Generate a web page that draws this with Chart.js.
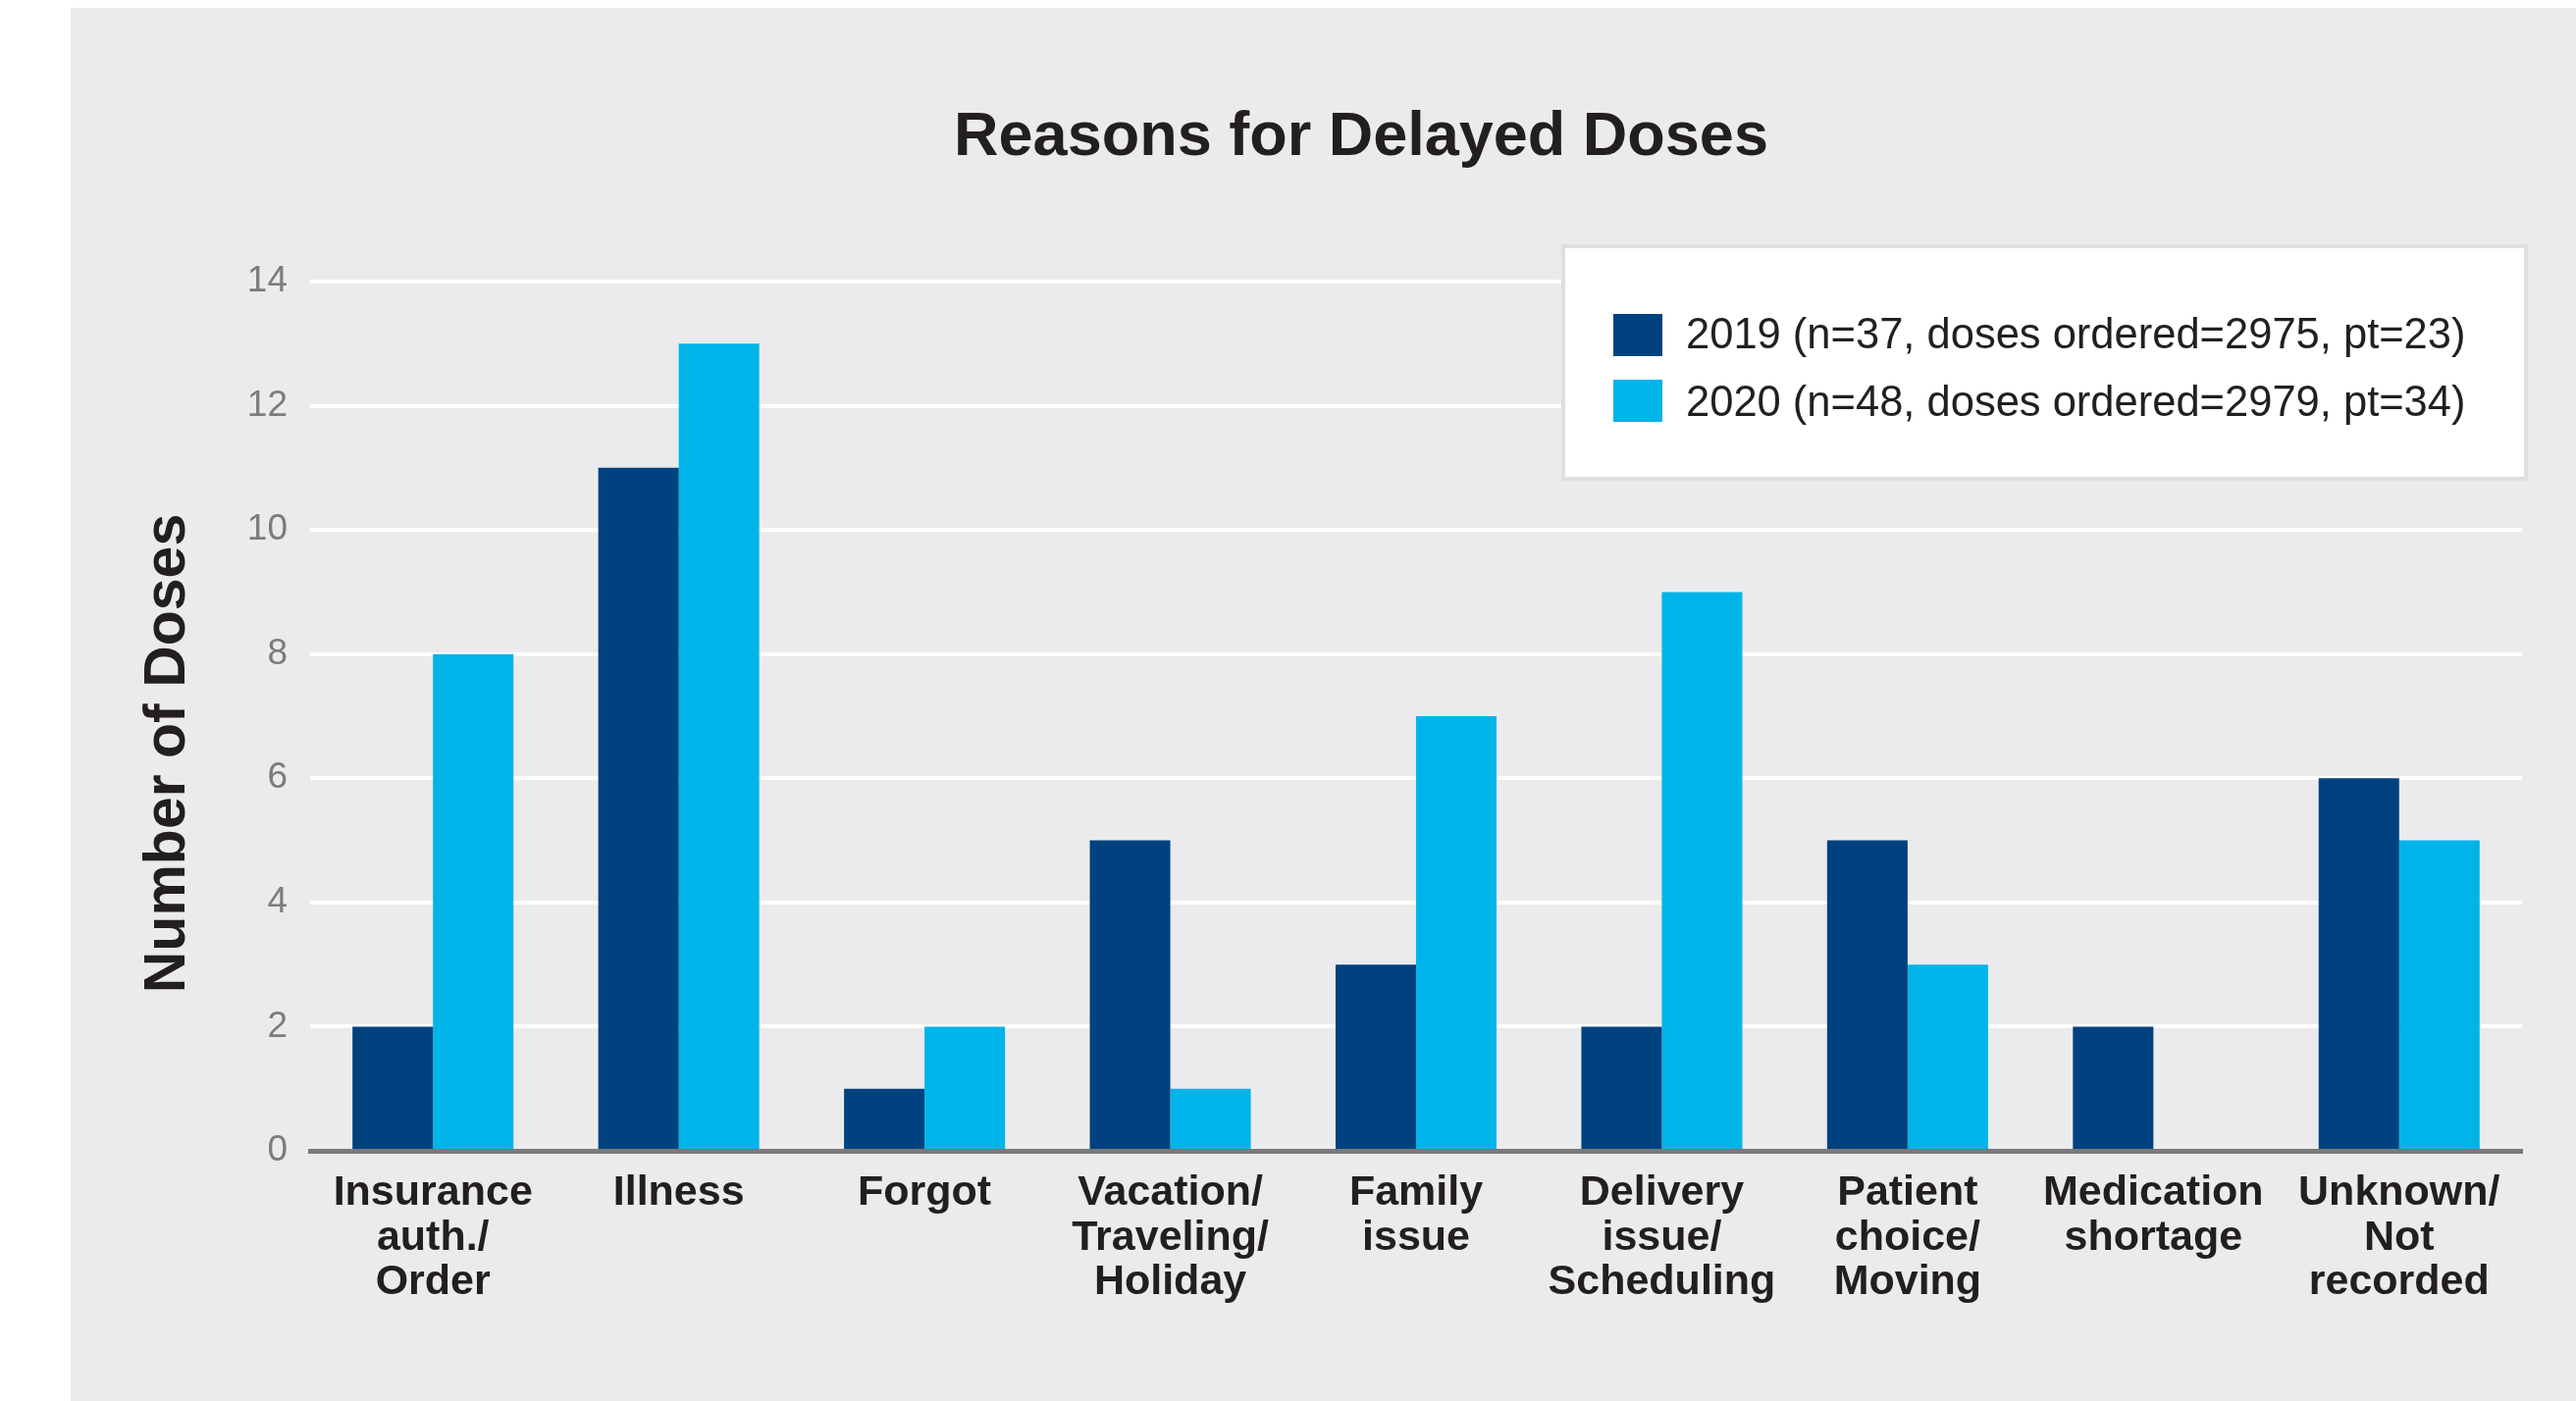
<!DOCTYPE html>
<html>
<head>
<meta charset="utf-8">
<script src="https://cdn.jsdelivr.net/npm/chart.js@4"></script>
<style>
  body { margin: 0; background: #fff; }
  canvas { display: block; }
</style>
</head>
<body>
<canvas id="dosesChart" width="2625" height="1428"></canvas>
<script>
// data
const reasons = [
    ['Insurance', 'auth./', 'Order'],
    ['Illness'],
    ['Forgot'],
    ['Vacation/', 'Traveling/', 'Holiday'],
    ['Family', 'issue'],
    ['Delivery', 'issue/', 'Scheduling'],
    ['Patient', 'choice/', 'Moving'],
    ['Medication', 'shortage'],
    ['Unknown/', 'Not', 'recorded']
];
const doses2019 = [2, 11, 1, 5, 3, 2, 5, 2, 6];
const doses2020 = [8, 13, 2, 1, 7, 9, 3, 0, 5];
const label2019 = '2019 (n=37, doses ordered=2975, pt=23)';
const label2020 = '2020 (n=48, doses ordered=2979, pt=34)';
const yTicks = [0, 2, 4, 6, 8, 10, 12, 14];
const chartTitle = 'Reasons for Delayed Doses';
const yTitle = 'Number of Doses';

const FONT = '"Liberation Sans", Arial, sans-serif';
const DARK = '#00427f';
const LIGHT = '#00b4e9';
const INK = '#231f20';

// grey panel behind everything
const panelBg = {
    id: 'panelBg',
    beforeDraw(chart) {
        const ctx = chart.ctx;
        ctx.save();
        ctx.fillStyle = '#ffffff';
        ctx.fillRect(0, 0, chart.width, chart.height);
        ctx.fillStyle = '#ebebed';
        ctx.fillRect(72, 8, chart.width - 72, chart.height - 8);
        ctx.restore();
    }
};

// titles sit off-centre in the original, so they are placed by hand
const titles = {
    id: 'titles',
    afterDraw(chart) {
        const ctx = chart.ctx;
        ctx.save();
        ctx.fillStyle = INK;
        ctx.textAlign = 'center';
        ctx.textBaseline = 'alphabetic';
        ctx.font = 'bold 63px ' + FONT;
        ctx.fillText(chartTitle, 1387, 158);
        ctx.translate(188, 768);
        ctx.rotate(-Math.PI / 2);
        ctx.font = 'bold 59px ' + FONT;
        ctx.fillText(yTitle, 0, 0);
        ctx.restore();
    }
};

// boxed legend in the upper right
const boxLegend = {
    id: 'boxLegend',
    afterDraw(chart) {
        const ctx = chart.ctx;
        const box = { x: 1593, y: 251, w: 981, h: 237 };
        const rows = [341, 408];
        const textRows = [343, 412];
        ctx.save();
        ctx.fillStyle = '#ffffff';
        ctx.fillRect(box.x, box.y, box.w, box.h);
        ctx.strokeStyle = '#dfdfe1';
        ctx.lineWidth = 4;
        ctx.strokeRect(box.x, box.y, box.w, box.h);
        ctx.font = '43.5px ' + FONT;
        ctx.textBaseline = 'middle';
        chart.data.datasets.forEach((ds, i) => {
            ctx.fillStyle = ds.backgroundColor;
            ctx.fillRect(1644, rows[i] - 21, 50, 43);
            ctx.fillStyle = INK;
            ctx.fillText(ds.label, 1718, textRows[i]);
        });
        ctx.restore();
    }
};

new Chart(document.getElementById('dosesChart'), {
    type: 'bar',
    data: {
        labels: reasons,
        datasets: [
            { label: label2019, data: doses2019, backgroundColor: DARK },
            { label: label2020, data: doses2020, backgroundColor: LIGHT }
        ]
    },
    options: {
        responsive: false,
        devicePixelRatio: 1,
        animation: false,
        layout: { padding: { top: 287, left: 110, right: 55, bottom: 0 } },
        datasets: { bar: { barPercentage: 1, categoryPercentage: 0.655 } },
        plugins: {
            legend: { display: false },
            tooltip: { enabled: false },
            title: { display: false }
        },
        scales: {
            x: {
                grid: { display: false },
                border: { display: true, color: '#7a7a7c', width: 5 },
                ticks: {
                    color: INK,
                    padding: 13,
                    maxRotation: 0,
                    autoSkip: false,
                    font: { family: FONT, size: 43, weight: 'bold', lineHeight: 1.05 }
                },
                afterFit(scale) { scale.height = 255; }
            },
            y: {
                min: 0,
                max: 14,
                afterBuildTicks(scale) { scale.ticks = yTicks.map(v => ({ value: v })); },
                grid: { color: '#ffffff', lineWidth: 4, drawTicks: false },
                border: { display: false },
                ticks: {
                    color: '#7b7c7e',
                    padding: 23,
                    font: { family: FONT, size: 37 }
                },
                afterFit(scale) { scale.width = 206; }
            }
        }
    },
    plugins: [panelBg, titles, boxLegend]
});
</script>
</body>
</html>
